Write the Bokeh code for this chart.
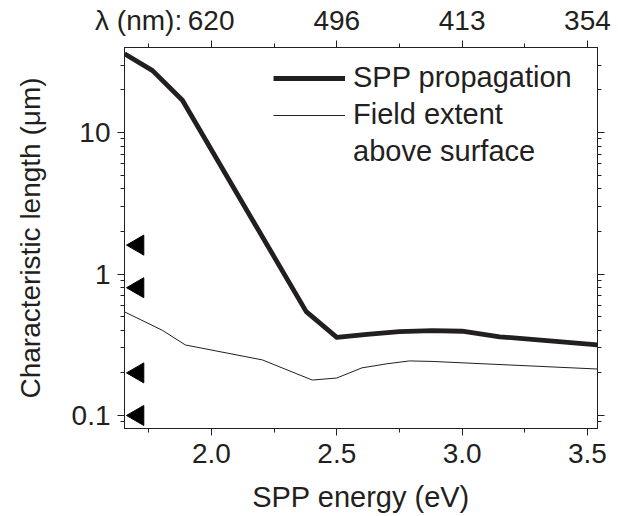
import math
from bokeh.plotting import figure
from bokeh.models import (Range1d, LinearAxis, LogAxis, FixedTicker, CustomJSTickFormatter,
                          PrintfTickFormatter, Legend, LegendItem)
from bokeh.embed import file_html
from bokeh.resources import INLINE

# ---------------- data ----------------
energy_propagation = [1.653, 1.765, 1.884, 2.378, 2.50, 2.62, 2.75, 2.88, 3.0, 3.15, 3.54]
spp_propagation = [36.0, 27.4, 16.9, 0.542, 0.357, 0.375, 0.392, 0.398, 0.394, 0.36, 0.315]

energy_field = [1.653, 1.804, 1.896, 2.203, 2.402, 2.50, 2.60, 2.70, 2.79, 2.88, 3.54]
field_extent = [0.54, 0.40, 0.315, 0.247, 0.178, 0.184, 0.217, 0.232, 0.243, 0.241, 0.213]

marker_energy = [1.707, 1.707, 1.707, 1.707]
marker_lengths = [0.1, 0.2, 0.8, 1.6]

energy_ticks = [2.0, 2.5, 3.0, 3.5]
energy_minor = [1.75, 2.25, 2.75, 3.25]
wavelength_labels = ["620", "496", "413", "354"]
wavelength_prefix = "\u03bb (nm):\u2009"
length_ticks = [0.1, 1, 10]
length_minor = [0.09, 0.2, 0.3, 0.4, 0.5, 0.6, 0.7, 0.8, 0.9,
                2, 3, 4, 5, 6, 7, 8, 9, 20, 30]

INK = "#231f20"
FONT = "Liberation Sans"
FS = "28px"
FS_BIG = "29px"

p = figure(width=618, height=516, x_range=Range1d(1.653, 3.54), y_range=Range1d(0.0809, 39.9),
           y_axis_type="log", output_backend="svg", toolbar_location=None,
           min_border_left=124, min_border_right=21, min_border_top=47, min_border_bottom=88)
p.grid.visible = False
p.outline_line_color = INK
p.background_fill_color = "white"
p.border_fill_color = "white"

def style_axis(ax):
    ax.axis_line_color = INK
    ax.axis_line_width = 1
    ax.major_tick_line_color = INK
    ax.minor_tick_line_color = INK
    ax.major_tick_out = 7
    ax.major_tick_in = 0
    ax.minor_tick_out = 4
    ax.minor_tick_in = 0
    ax.major_label_text_font = FONT
    ax.major_label_text_font_size = FS
    ax.major_label_text_color = INK
    ax.axis_label_text_font = FONT
    ax.axis_label_text_font_size = FS
    ax.axis_label_text_font_style = "normal"
    ax.axis_label_text_color = INK

# bottom axis
xb = p.xaxis[0]
xb.ticker = FixedTicker(ticks=energy_ticks, minor_ticks=energy_minor)
xb.formatter = PrintfTickFormatter(format="%.1f")
style_axis(xb)
xb.axis_label = "SPP energy (eV)"
xb.axis_label_text_font_size = FS_BIG
xb.major_label_standoff = 8
xb.axis_label_standoff = 15

# left axis
yl = p.yaxis[0]
yl.ticker = FixedTicker(ticks=length_ticks, minor_ticks=length_minor)
yl.formatter = CustomJSTickFormatter(code="return tick.toString();")
style_axis(yl)
yl.axis_label = "Characteristic length (\u03bcm)"
yl.major_label_standoff = 7
yl.axis_label_standoff = 23

# top axis (wavelength); the first label carries the "λ (nm):" prefix, balanced by
# non-breaking spaces so that the number itself stays centred on its tick
top_labels = list(wavelength_labels)
top_labels[0] = wavelength_prefix + top_labels[0] + "\u00a0" * 12
xt = LinearAxis(ticker=FixedTicker(ticks=energy_ticks, minor_ticks=energy_minor))
xt.major_label_overrides = {t: lab for t, lab in zip(energy_ticks, top_labels)}
style_axis(xt)
xt.major_label_standoff = 5
p.add_layout(xt, "above")

# right axis (ticks only)
yr = LogAxis(ticker=FixedTicker(ticks=length_ticks, minor_ticks=length_minor))
yr.formatter = CustomJSTickFormatter(code="return '';")
style_axis(yr)
yr.major_label_standoff = 0
p.add_layout(yr, "right")

# curves
r_prop = p.line(energy_propagation, spp_propagation, line_color=INK, line_width=4.8,
                line_join="round")
r_field = p.line(energy_field, field_extent, line_color=INK, line_width=1)
r_blank = p.line(energy_field, field_extent, line_alpha=0)

# markers
p.scatter(marker_energy, marker_lengths, marker="triangle", size=20, angle=math.pi / 2,
          fill_color="black", line_color="black")

legend = Legend(items=[LegendItem(label="SPP propagation", renderers=[r_prop]),
                       LegendItem(label="Field extent", renderers=[r_field]),
                       LegendItem(label="above surface", renderers=[r_blank])],
                location=(145, 256), border_line_alpha=0, background_fill_alpha=0,
                label_text_font=FONT, label_text_font_size=FS_BIG, label_text_color=INK,
                glyph_width=72, glyph_height=30, label_height=30, spacing=4,
                label_standoff=8, padding=4, margin=0)
p.add_layout(legend)

open("out.html", "w").write(file_html(p, INLINE))
